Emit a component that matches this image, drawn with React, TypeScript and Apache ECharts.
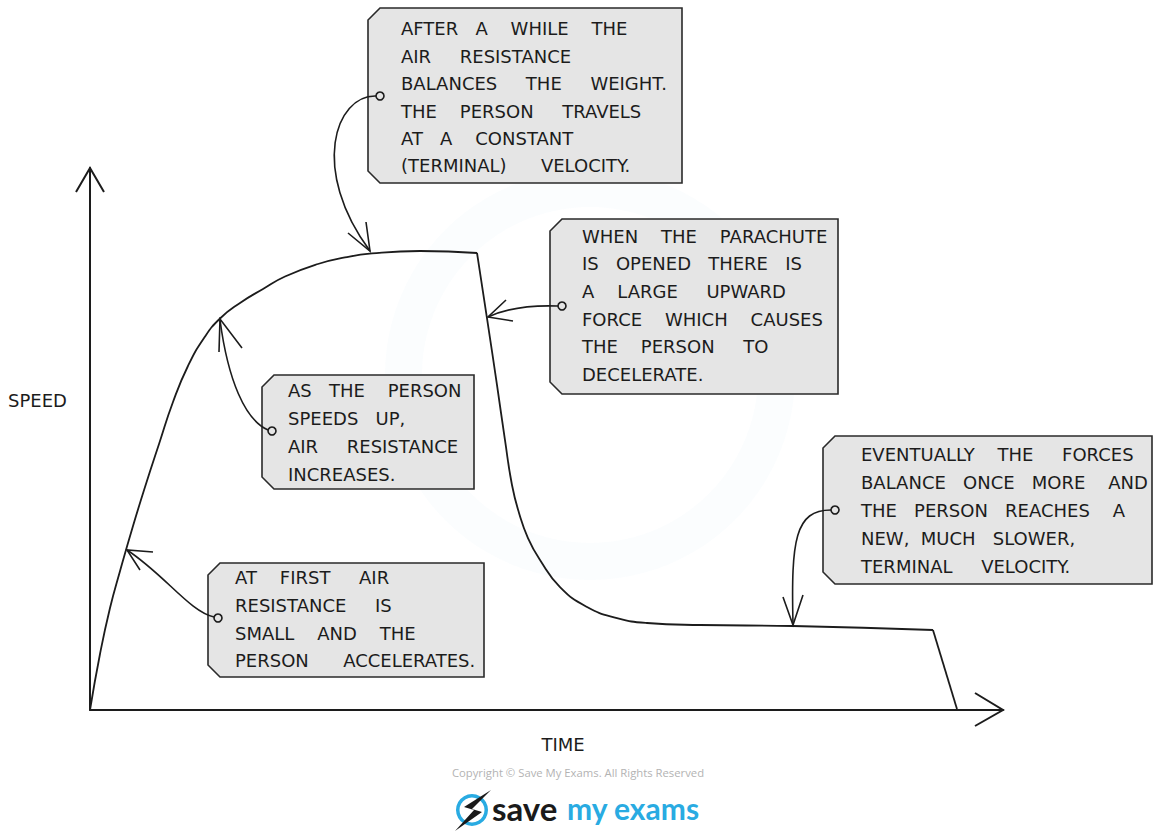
import React, { useEffect, useRef } from "react";
import * as echarts from "echarts";

// ---- data ----
// phase 1: free fall, speed rising to the first terminal velocity
const riseTime = [0, 1.095, 2.19, 3.29, 4.71, 6.13, 7.56, 9.09, 10.73, 12.49, 14.24, 16.43, 18.95, 21.36, 24.97, 27.93, 30.89, 36.14, 42.39];
const riseSpeed = [0, 10.33, 18.82, 25.65, 33.95, 41.70, 49.08, 56.83, 63.47, 68.63, 72.23, 75.09, 77.68, 79.98, 82.29, 83.49, 84.23, 84.69, 84.32];
// phase 2: parachute opens, deceleration to the new terminal velocity
const dropTime = [42.39, 43.48, 44.58, 45.45, 46.22, 46.99, 47.97, 49.29, 51.48, 54.44, 57.72, 61.01, 66.81, 77.0, 92.33];
const dropSpeed = [84.32, 72.32, 59.96, 49.82, 41.51, 36.35, 31.73, 27.68, 22.69, 19.0, 16.97, 16.05, 15.68, 15.5, 14.76];
// phase 3: landing
const landTime = [92.33, 94.96];
const landSpeed = [14.76, 0.18];

const xAxisTitle = "TIME";
const yAxisTitle = "SPEED";
const noteTerminal = ["AFTER A WHILE THE", "AIR RESISTANCE", "BALANCES THE WEIGHT.", "THE PERSON TRAVELS", "AT A CONSTANT", "(TERMINAL) VELOCITY."];
const noteParachute = ["WHEN THE PARACHUTE", "IS OPENED THERE IS", "A LARGE UPWARD", "FORCE WHICH CAUSES", "THE PERSON TO", "DECELERATE."];
const noteSpeedsUp = ["AS THE PERSON", "SPEEDS UP,", "AIR RESISTANCE", "INCREASES."];
const noteFirst = ["AT FIRST AIR", "RESISTANCE IS", "SMALL AND THE", "PERSON ACCELERATES."];
const noteEventually = ["EVENTUALLY THE FORCES", "BALANCE ONCE MORE AND", "THE PERSON REACHES A", "NEW, MUCH SLOWER,", "TERMINAL VELOCITY."];
const copyrightText = "Copyright \u00A9 Save My Exams. All Rights Reserved";
const brandDark = "save";
const brandBlue = "my exams";

// ---- layout / style ----
const FONT_FAMILY = '"DejaVu Sans", sans-serif';
const FS = 17;
const SX = 1.06;
const INK = "#1c1c1c";
const BOX_FILL = "#e5e5e5";

type Box = {
  x0: number; y0: number; x1: number; y1: number;
  tx: number; y: number; step: number; lines: string[]; ends: number[];
  circle: [number, number];
  curve: number[];
  head: number[][];
};

const boxes: Box[] = [
  { x0: 368, y0: 8, x1: 682, y1: 183, tx: 401, y: 29.5, step: 27.4, lines: noteTerminal, ends: [629, 573, 665, 643, 573, 629], circle: [380, 96],
    curve: [376, 96, 335, 95, 310, 170, 370, 251], head: [[348, 233], [370, 251], [366, 222]] },
  { x0: 550, y0: 219, x1: 838, y1: 394, tx: 582, y: 237, step: 27.6, lines: noteParachute, ends: [825, 803, 785, 823, 767, 707], circle: [562, 306],
    curve: [558, 306, 530, 305, 505, 309, 488, 317], head: [[506, 300], [488, 317], [513, 321]] },
  { x0: 262, y0: 375, x1: 474, y1: 489, tx: 288, y: 391.5, step: 28, lines: noteSpeedsUp, ends: [463, 405, 458, 400], circle: [272, 431],
    curve: [268, 430, 245, 420, 228, 380, 220, 320], head: [[219, 352], [220, 319], [242, 348]] },
  { x0: 208, y0: 563, x1: 484, y1: 677, tx: 235, y: 578.5, step: 27.7, lines: noteFirst, ends: [388, 390, 416, 475], circle: [218, 618],
    curve: [214, 617, 190, 612, 165, 575, 127, 550], head: [[153, 552], [127, 550], [140, 570]] },
  { x0: 823, y0: 436, x1: 1152, y1: 584, tx: 861, y: 455, step: 28, lines: noteEventually, ends: [1136, 1147, 1126, 1075, 1068], circle: [835, 510],
    curve: [831, 510, 795, 510, 791, 540, 793, 624], head: [[783, 597], [793, 625], [803, 595]] },
];

function justify(ctx: CanvasRenderingContext2D, text: string, x0: number, x1: number): string {
  const words = text.split(" ").filter(Boolean);
  if (words.length < 2) return words.join("");
  const wordsW = words.reduce((a, w) => a + ctx.measureText(w).width, 0);
  const spW = ctx.measureText(" ").width;
  const gaps = words.length - 1;
  let total = Math.round(((x1 - x0) / SX - wordsW) / spW);
  total = Math.max(total, gaps);
  let out = words[0];
  for (let i = 1; i < words.length; i++) {
    const n = Math.max(1, Math.floor((total * i) / gaps) - Math.floor((total * (i - 1)) / gaps));
    out += " " + "\u00A0".repeat(n - 1) + words[i];
  }
  return out;
}

function boxPolygon(b: Box, c = 12) {
  return [
    [b.x0 + c, b.y0], [b.x1, b.y0], [b.x1, b.y1], [b.x0 + c, b.y1], [b.x0, b.y1 - c], [b.x0, b.y0 + c],
  ];
}

const pairs = (xs: number[], ys: number[]) => xs.map((x, i) => [x, ys[i]]);

export default function App() {
  const ref = useRef<HTMLDivElement>(null);
  useEffect(() => {
    if (!ref.current) return;
    const chart = echarts.init(ref.current, undefined, { renderer: "svg" });
    const canvas = document.createElement("canvas");
    const ctx = canvas.getContext("2d") as CanvasRenderingContext2D;
    ctx.font = `${FS}px ${FONT_FAMILY}`;

    const graphics: any[] = [];
    graphics.push({ type: "ring", z: 0, shape: { cx: 590, cy: 375, r: 205, r0: 168 }, style: { fill: "rgba(41,171,226,0.02)" }, silent: true });

    graphics.push({ type: "polyline", z: 5, shape: { points: [[76, 192], [90, 168], [104, 192]] }, style: { stroke: INK, lineWidth: 2, fill: null } });
    graphics.push({ type: "polyline", z: 5, shape: { points: [[975, 693], [1003, 710], [975, 726]] }, style: { stroke: INK, lineWidth: 2, fill: null } });

    graphics.push({ type: "text", z: 5, x: 8, y: 401, scaleX: SX, style: { text: yAxisTitle, font: `${FS}px ${FONT_FAMILY}`, fill: INK, verticalAlign: "middle", align: "left" } });
    graphics.push({ type: "text", z: 5, x: 563, y: 745, scaleX: SX, style: { text: xAxisTitle, font: `${FS}px ${FONT_FAMILY}`, fill: INK, verticalAlign: "middle", align: "center" } });

    boxes.forEach((b) => {
      graphics.push({ type: "polygon", z: 10, shape: { points: boxPolygon(b) }, style: { fill: BOX_FILL, stroke: "#2a2a2a", lineWidth: 1.6 } });
      b.lines.forEach((ln, i) => {
        graphics.push({
          type: "text", z: 11, x: b.tx, y: b.y + i * b.step, scaleX: SX,
          style: { text: justify(ctx, ln, b.tx, b.ends[i]), font: `${FS}px ${FONT_FAMILY}`, fill: INK, verticalAlign: "middle", align: "left" },
        });
      });
      const c = b.curve;
      graphics.push({ type: "bezierCurve", z: 12, shape: { x1: c[0], y1: c[1], cpx1: c[2], cpy1: c[3], cpx2: c[4], cpy2: c[5], x2: c[6], y2: c[7] }, style: { stroke: INK, lineWidth: 1.6, fill: null } });
      graphics.push({ type: "polyline", z: 12, shape: { points: b.head }, style: { stroke: INK, lineWidth: 1.6, fill: null } });
      graphics.push({ type: "circle", z: 13, shape: { cx: b.circle[0], cy: b.circle[1], r: 4 }, style: { fill: BOX_FILL, stroke: INK, lineWidth: 1.6 } });
    });

    graphics.push({ type: "text", z: 5, x: 578, y: 772, style: { text: copyrightText, font: '11.3px "Open Sans", sans-serif', fill: "#b3b3b3", align: "center", verticalAlign: "middle" } });
    graphics.push({ type: "ring", z: 5, shape: { cx: 472, cy: 810, r: 16, r0: 12.5 }, style: { fill: "#29abe2" } });
    graphics.push({ type: "polygon", z: 6, shape: { points: [[491, 790], [464, 807], [474, 810], [455, 831], [482, 812], [472, 809]] }, style: { fill: "#1a1a1a" } });
    graphics.push({ type: "text", z: 5, x: 492, y: 808, style: { text: brandDark, font: 'bold 33px Lato, "Open Sans", sans-serif', fill: "#1a1a1a", align: "left", verticalAlign: "middle" } });
    graphics.push({ type: "text", z: 5, x: 567, y: 808, style: { text: brandBlue, font: 'bold 30px Lato, "Open Sans", sans-serif', fill: "#29abe2", align: "left", verticalAlign: "middle" } });

    const lineSeries = (data: number[][], smooth: number | boolean) => ({
      type: "line",
      data,
      symbol: "none",
      smooth,
      lineStyle: { color: INK, width: 1.8 },
      z: 3,
    });

    chart.setOption({
      animation: false,
      backgroundColor: "#ffffff",
      grid: { left: 90, right: 151, top: 168, bottom: 121 },
      xAxis: {
        type: "value", min: 0, max: 100,
        axisLine: { show: true, onZero: true, lineStyle: { color: INK, width: 2 } },
        axisTick: { show: false }, axisLabel: { show: false }, splitLine: { show: false },
      },
      yAxis: {
        type: "value", min: 0, max: 100,
        axisLine: { show: true, lineStyle: { color: INK, width: 2 } },
        axisTick: { show: false }, axisLabel: { show: false }, splitLine: { show: false },
      },
      series: [
        lineSeries(pairs(riseTime, riseSpeed), 0.5),
        lineSeries(pairs(dropTime, dropSpeed), 0.5),
        lineSeries(pairs(landTime, landSpeed), false),
      ],
      graphic: graphics,
    });
    return () => chart.dispose();
  }, []);
  return <div ref={ref} style={{ position: "absolute", left: 0, top: 0, width: 1154, height: 831 }} />;
}
